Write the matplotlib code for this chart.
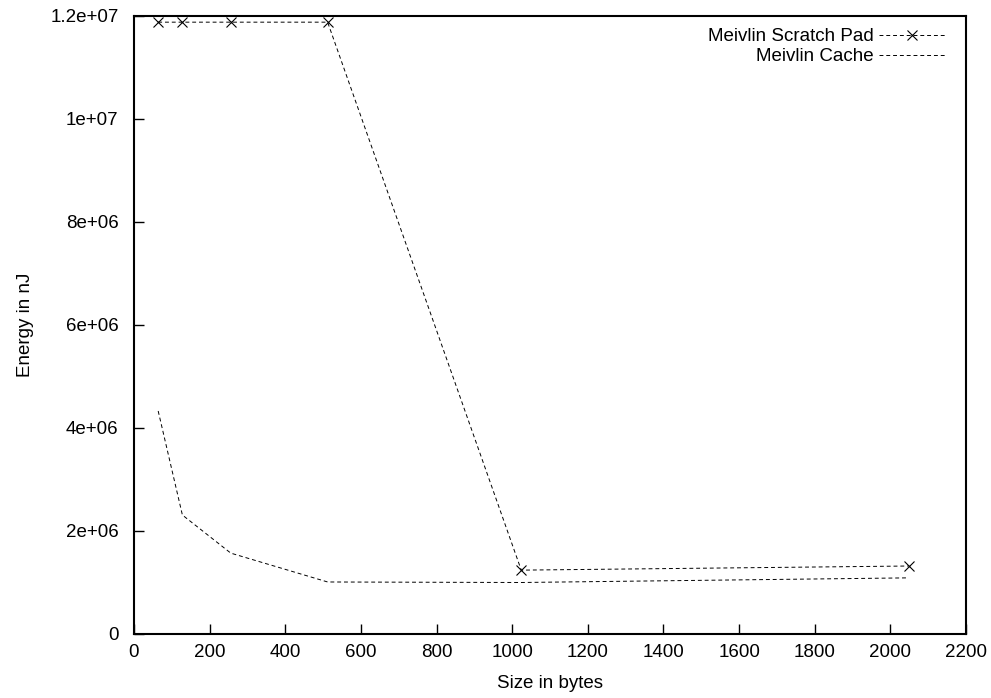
import numpy as np
import matplotlib
matplotlib.use('Agg')
import matplotlib.pyplot as plt
import matplotlib.ticker as ticker

plt.rcParams['font.family'] = ['Liberation Sans', 'DejaVu Sans']

# sizes in bytes
sizes = [64, 128, 256, 512, 1024, 2048]
# energy in nJ
scratch_pad = [1.188e7, 1.188e7, 1.188e7, 1.188e7, 1.24e6, 1.32e6]
cache = [4.33e6, 2.31e6, 1.57e6, 1.01e6, 1.0e6, 1.09e6]

fontsize = 13.5
fig = plt.figure(figsize=(9.91, 6.98), dpi=100)
ax = fig.add_axes([0.1352, 0.0917, 0.8396, 0.8854])

dash = (0, (4, 3))
ax.plot(sizes, scratch_pad, color='black', linewidth=0.7, linestyle=dash,
        marker='x', markersize=7, markeredgewidth=0.8, label='Meivlin Scratch Pad')
ax.plot(sizes, cache, color='black', linewidth=0.7, linestyle=dash,
        label='Meivlin Cache')

ax.set_xlim(0, 2200)
ax.set_ylim(0, 1.2e7)
ax.xaxis.set_major_locator(ticker.MultipleLocator(200))
ax.yaxis.set_major_locator(ticker.MultipleLocator(2e6))
ax.yaxis.set_major_formatter(ticker.FuncFormatter(lambda v, pos: '%g' % v))

ax.tick_params(axis='both', direction='in', length=7, width=1, labelsize=fontsize,
               top=False, right=False)
ax.tick_params(axis='y', pad=11)
ax.tick_params(axis='x', pad=7)
for s in ax.spines.values():
    s.set_linewidth(1.5)

ax.set_xlabel('Size in bytes', fontsize=fontsize, labelpad=10)
ax.set_ylabel('Energy in nJ', fontsize=fontsize, labelpad=12)

leg = ax.legend(loc='upper right', bbox_to_anchor=(0.987, 0.997), frameon=False,
                markerfirst=False, numpoints=1, fontsize=fontsize,
                handlelength=3.5, handletextpad=0.3,
                labelspacing=0.15, borderaxespad=0.15)

fig.savefig('out.png', dpi=100)
